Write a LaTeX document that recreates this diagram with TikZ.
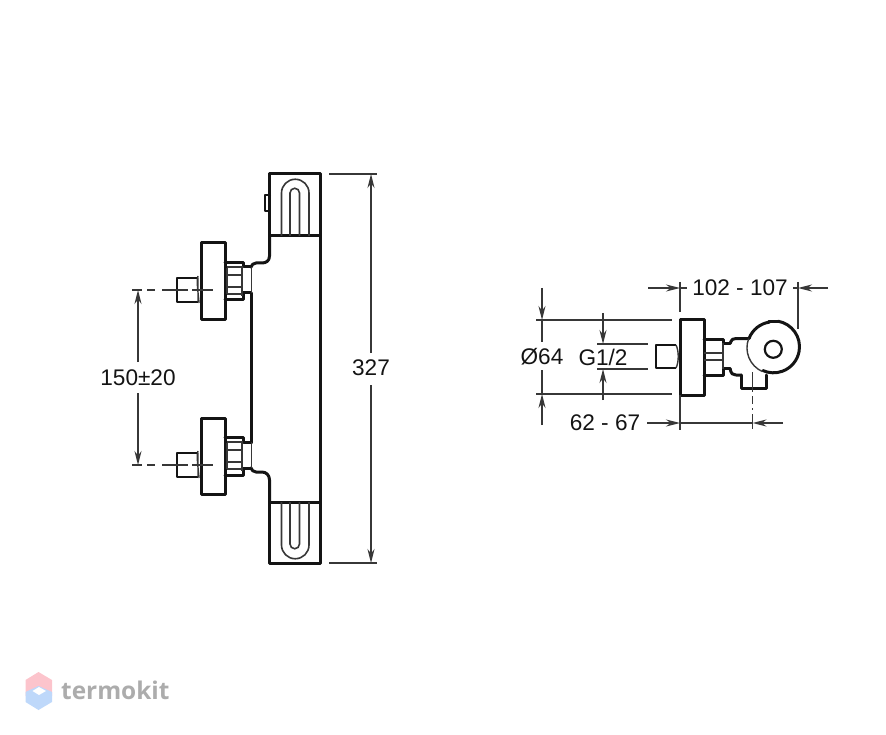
\documentclass[tikz,border=0pt]{standalone}
\usepackage{fontspec}
\setmainfont{Liberation Sans}
\newfontfamily\wmfont{Open Sans}
\usetikzlibrary{arrows.meta}
\definecolor{ink}{RGB}{20,20,20}
\definecolor{wmgrey}{RGB}{172,172,172}
\definecolor{wmpink}{RGB}{252,196,204}
\definecolor{wmblue}{RGB}{190,216,250}
\tikzset{
  heavy/.style={draw=ink,line width=3pt,line join=round,line cap=round},
  medium/.style={draw=ink,line width=2pt,line join=round},
  fine/.style={draw=ink!85,line width=1.4pt},
  dimline/.style={draw=ink!85,line width=1.4pt},
  dimhead/.style={dimline,-{Stealth[length=14pt,width=7pt]}},
  dimtext/.style={font=\fontsize{22.6pt}{25pt}\selectfont,text=ink,inner sep=0pt},
}
\begin{document}
\begin{tikzpicture}[x=1pt,y=-1pt]
\useasboundingbox (0,0) rectangle (886,735);
% --- front view: body
\draw[heavy] (269.5,236) -- (269.5,174) -- (320,174) -- (320,563) -- (269.5,563) -- (269.5,502);
\draw[heavy] (269.5,236) -- (320,236);
\draw[heavy] (269.5,502) -- (320,502);
\draw[heavy] (269.5,236) -- (269.5,256) .. controls (269.5,261) and (266,263) .. (262,263) -- (256,263) .. controls (253,263) and (252,265) .. (251,267);
\draw[heavy] (269.5,502) -- (269.5,480) .. controls (269.5,475) and (266,472) .. (262,472) -- (256,472) .. controls (253,472) and (252,470) .. (251,468);
\draw[heavy] (251.5,293) -- (251.5,443);
\draw[medium] (271,195) -- (264.5,195) -- (264.5,211) -- (271,211);
% U-shapes
\draw[fine,line width=1.6pt] (281.5,236) -- (281.5,193) arc[start angle=180,end angle=360,radius=13.75] -- (309,236);
\draw[fine,line width=1.6pt] (290,236) -- (290,193) arc[start angle=180,end angle=360,radius=4.75] -- (299.5,236);
\draw[fine,line width=1.6pt] (281.5,502) -- (281.5,545) arc[start angle=180,end angle=0,radius=13.75] -- (309,502);
\draw[fine,line width=1.6pt] (290,502) -- (290,544) arc[start angle=180,end angle=0,radius=4.75] -- (299.5,502);
% valves
\foreach \dy in {0,175}{
\begin{scope}[shift={(0,\dy)}]
  \draw[heavy] (201,243) rectangle (225,319);
  \draw[heavy] (225,262.5) -- (243.5,262.5) -- (243.5,267) -- (251,267);
  \draw[heavy] (225,300) -- (243.5,300) -- (243.5,293) -- (251,293);
  \draw[fine] (251.5,267) -- (251.5,293);
  \draw[fine] (227,268) -- (227,294) (242,266) -- (242,296);
  \draw[fine] (227,267) -- (242,267) (227,275) -- (242,275) (227,287) -- (242,287) (227,294) -- (242,294);
  \draw[medium] (198,278) -- (176.5,278) -- (176.5,302) -- (198,302);
  \draw[fine] (198,276) .. controls (196,281) and (199,299) .. (199,303) (198,278) -- (198,302);
  \draw[dimline] (132,290) -- (142,290) (147,290) -- (155,290) (162,290) -- (188,290) (192,290) -- (213,290);
\end{scope}}
% 150±20
\coordinate (dimAtop) at (138,290);
\coordinate (dimAtopEnd) at (138,362);
\coordinate (dimAbot) at (138,465);
\coordinate (dimAbotEnd) at (138,393);
\draw[dimhead] (dimAtopEnd) -- (dimAtop);
\draw[dimhead] (dimAbotEnd) -- (dimAbot);
\node[dimtext] (lblA) at (138,378) {150±20};
% 327
\draw[dimline] (329,174) -- (377,174);
\draw[dimline] (329,563) -- (377,563);
\coordinate (dimBtop) at (371,174);
\coordinate (dimBtopEnd) at (371,353);
\coordinate (dimBbot) at (371,563);
\coordinate (dimBbotEnd) at (371,385);
\draw[dimhead] (dimBtopEnd) -- (dimBtop);
\draw[dimhead] (dimBbotEnd) -- (dimBbot);
\node[dimtext] (lblB) at (371,368) {327};
% --- side view
\draw[heavy] (680,319) rectangle (704,395);
\draw[heavy] (704,339) -- (723,339) -- (723,343.5) -- (730,343.5);
\draw[heavy] (704,375) -- (723,375) -- (723,368.5) -- (730,368.5);
\draw[fine] (723,343) -- (723,369);
\draw[fine] (704,353) -- (723,353) (704,360) -- (723,360);
\draw[medium] (676,345) -- (655.5,345) -- (655.5,368) -- (676,368);
\draw[fine] (676,345) .. controls (679,351) and (679,362) .. (676,368);
\draw[heavy] (730,343.5) .. controls (732,339) and (733,338.5) .. (736,338.5) -- (749,338.5);
\draw[heavy] (730,368.5) .. controls (731,374) and (733,375) .. (736,375) -- (741,375);
\draw[heavy] (741,375) -- (741,388) -- (766,388) -- (766,375);
\draw[heavy] (749,338.5) arc[start angle=201,end angle=262,radius=26];
\draw[heavy] (768.5,321.2) -- (778,321.2);
\draw[heavy] (778,321.2) arc[start angle=280,end angle=474,radius=26];
\draw[fine] (748.7,338.5) arc[start angle=201,end angle=114,radius=26];
\node[circle,draw=ink,line width=2.2pt,minimum size=17pt,inner sep=0pt] (hole) at (773.3,349.3) {};
% Ø64
\draw[dimline] (536,320) -- (672,320);
\draw[dimline] (536,394) -- (672,394);
\coordinate (dimCtop) at (542,320);
\coordinate (dimCtopS) at (542,288);
\coordinate (dimCbot) at (542,394);
\coordinate (dimCbotS) at (542,425);
\draw[dimhead] (dimCtopS) -- (dimCtop);
\draw[dimhead] (dimCbotS) -- (dimCbot);
\draw[dimline] (542,320) -- (542,342) (542,370) -- (542,394);
\node[dimtext] (lblC) at (542,357) {Ø64};
% G1/2
\draw[dimline] (597,344) -- (648,344);
\draw[dimline] (597,369) -- (648,369);
\coordinate (dimDtop) at (603,344);
\coordinate (dimDtopS) at (603,313);
\coordinate (dimDbot) at (603,369);
\coordinate (dimDbotS) at (603,400);
\draw[dimhead] (dimDtopS) -- (dimDtop);
\draw[dimhead] (dimDbotS) -- (dimDbot);
\node[dimtext] (lblD) at (603,357) {G1/2};
% 102 - 107
\draw[dimline] (680,282) -- (680,312);
\draw[dimline] (798,282) -- (798,329);
\coordinate (dimEl) at (680,288);
\coordinate (dimEls) at (648,288);
\coordinate (dimEr) at (798,288);
\coordinate (dimErs) at (828,288);
\draw[dimhead] (dimEls) -- (dimEl);
\draw[dimhead] (dimErs) -- (dimEr);
\draw[dimline] (680,288) -- (687,288) (793,288) -- (798,288);
\node[dimtext] (lblE) at (740,288) {102 - 107};
% 62 - 67
\draw[dimline] (680,395) -- (680,430);
\draw[fine] (752.5,372) -- (752.5,392);
\draw[dimline] (752.5,396) -- (752.5,404) (752.5,408) -- (752.5,410) (752.5,414) -- (752.5,429);
\coordinate (dimFl) at (680,423);
\coordinate (dimFls) at (647,423);
\coordinate (dimFr) at (752.5,423);
\coordinate (dimFrs) at (783,423);
\draw[dimhead] (dimFls) -- (dimFl);
\draw[dimhead] (dimFrs) -- (dimFr);
\draw[dimline] (dimFl) -- (dimFr);
\node[dimtext] (lblF) at (605,423) {62 - 67};
% --- watermark
\fill[wmpink] (38.5,672) -- (52,680) -- (52,696) -- (38.5,688) -- (25.5,696) -- (25.5,680) -- cycle;
\fill[wmblue] (25.5,692) -- (38.5,686) -- (52,692) -- (52,702) -- (38.5,710) -- (25.5,702) -- cycle;
\fill[white] (32.5,691) -- (39,687) -- (46,691) -- (39,695) -- cycle;
\node[font=\wmfont\bfseries\fontsize{24.4pt}{26pt}\selectfont,text=wmgrey,inner sep=0pt,anchor=west] (brand) at (61,690) {termokit};
\end{tikzpicture}
\end{document}
